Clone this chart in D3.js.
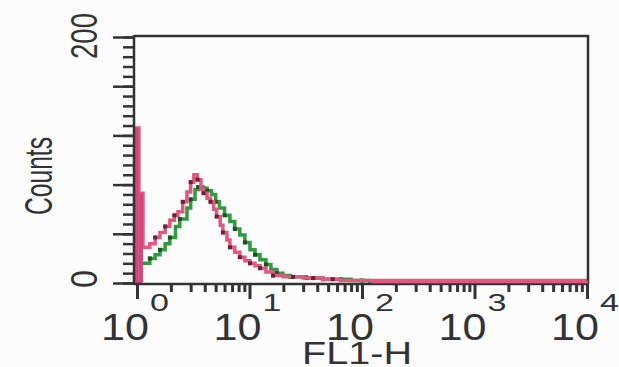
<!DOCTYPE html>
<html><head><meta charset="utf-8">
<script src="https://cdn.jsdelivr.net/npm/d3@7"></script>
<style>body{margin:0;background:#fcfcfd;} svg{display:block;font-family:"Liberation Sans",Arial,Helvetica,sans-serif;}</style>
</head><body>
<script>
// FL1-H bin start values and counts
const pinkFL1 =   [0.93,1.04,1.13,1.30,1.45,1.60,1.78,1.96,2.15,2.31,2.55,2.78,3.0,3.2,3.45,3.7,3.9,4.2,4.5,4.8,5.1,5.5,5.8,6.3,6.7,7.4,8.2,9.1,10.1,11.2,12.4,14,16.2,20,24.4,30,36.8,45,55,64,80,100,120,10000];
const pinkCounts =[126,73,29,32,37,41,46,51,55,58,66,74,82,88,84,76,73,69,66,60,54,47,41,35,29,25,21,18,16,14,12,9,6,5,5,4,4,3,3,2,2,2,2,2];
const greenFL1 =  [1.13,1.30,1.45,1.60,1.78,1.96,2.2,2.4,2.78,3.0,3.28,3.5,3.9,4.2,4.6,5.0,5.4,6.0,6.7,7.4,8.2,9.1,10.1,11.2,12.4,14,15.5,17.5,19.8,23,27,32,38,45,55,65,80,100,117];
const greenCounts=[16,20,23,27,32,37,46,52,61,68,76,78,77,75,72,66,61,55,50,44,39,33,27,23,19,15,11,8,6,5,5,4,4,3,3,3,2,2,1];
const xMajor = [1,10,100,1000,10000];
const xExponents = ["0","1","2","3","4"];
const yMajor = [0,40,80,120,160,200];
const yLabels = ["0","200"];

const W=619,H=367;
const svg=d3.select("body").append("svg").attr("width",W).attr("height",H);
svg.append("rect").attr("width",W).attr("height",H).attr("fill","#fcfcfd");

const x=d3.scaleLog().domain([1,10000]).range([137,587]);
const y=d3.scaleLinear().domain([0,200]).range([283,37]);
const frame={l:134,r:588,t:36,b:284};

// histograms
const line=d3.line().x(d=>x(d[0])).y(d=>y(d[1])).curve(d3.curveStepAfter);
const gData=greenFL1.map((v,i)=>[v,greenCounts[i]]); gData.push([130,0]);
const pData=pinkFL1.map((v,i)=>[v,pinkCounts[i]]);
svg.append("path").attr("d",line(gData)).attr("fill","none").attr("stroke","#2f9a3e").attr("stroke-width",3.5);
svg.append("g").selectAll("rect").data(gData.filter((d,i)=>i%2===1&&d[1]>0)).join("rect")
  .attr("x",d=>x(d[0])-2).attr("y",d=>y(d[1])-2).attr("width",4).attr("height",4).attr("fill","#1f4d22");
svg.append("path").attr("d",line(pData)).attr("fill","none").attr("stroke","#e2577f").attr("stroke-width",3.5);
// spike bins drawn filled
svg.append("g").selectAll("rect").data(pData.slice(0,2)).join("rect")
  .attr("x",(d,i)=>x(d[0])).attr("width",(d,i)=>x(pData[i+1][0])-x(d[0]))
  .attr("y",d=>y(d[1])).attr("height",d=>y(0)-y(d[1])).attr("fill","#d9457a");
svg.append("g").selectAll("rect").data(pData.filter((d,i)=>i>2&&i%2===0&&d[0]<60)).join("rect")
  .attr("x",d=>x(d[0])-2).attr("y",d=>y(d[1])-2).attr("width",4).attr("height",4).attr("fill","#6b2035");

// frame
svg.append("path").attr("d",`M${frame.l},${frame.t}H${frame.r}V${frame.b}`).attr("fill","none").attr("stroke","#333").attr("stroke-width",2.5);

// y axis
const yAxisMinor=d3.axisLeft(y).tickValues(d3.range(0,201,8)).tickSize(11).tickFormat("");
const yAxisMajor=d3.axisLeft(y).tickValues(yMajor).tickSize(21).tickFormat("");
[yAxisMinor,yAxisMajor].forEach(a=>{
  const g=svg.append("g").attr("transform",`translate(${frame.l},0)`).call(a);
  g.select(".domain").remove();
  g.selectAll("line").attr("stroke","#333").attr("stroke-width",2.5);
});
svg.append("line").attr("x1",frame.l).attr("x2",frame.l).attr("y1",frame.t-1).attr("y2",frame.b+1).attr("stroke","#333").attr("stroke-width",2.5);

// x axis
const xMinorVals=[];
for(let d=1;d<10000;d*=10) for(let k=2;k<10;k++) xMinorVals.push(d*k);
const xAxisMinor=d3.axisBottom(x).tickValues(xMinorVals).tickSize(8).tickFormat("");
const xAxisMajor=d3.axisBottom(x).tickValues(xMajor).tickSize(15).tickFormat("");
[xAxisMinor,xAxisMajor].forEach(a=>{
  const g=svg.append("g").attr("transform",`translate(0,${frame.b})`).call(a);
  g.select(".domain").remove();
  g.selectAll("line").attr("stroke","#333").attr("stroke-width",3);
});
svg.append("line").attr("x1",frame.l).attr("x2",frame.r).attr("y1",frame.b).attr("y2",frame.b).attr("stroke","#333").attr("stroke-width",2.5);
// pink baseline over axis
svg.append("line").attr("x1",x(120)).attr("x2",frame.r).attr("y1",y(0)-1).attr("y2",y(0)-1).attr("stroke","#e2577f").attr("stroke-width",2.5);

// x tick labels
xMajor.forEach((v,i)=>{
  const tx=x(v);
  svg.append("text").attr("x",tx-36).attr("y",340).attr("font-size",36).attr("fill","#333")
    .attr("textLength",48).attr("lengthAdjust","spacingAndGlyphs").text("10");
  svg.append("text").attr("x",tx+13).attr("y",311).attr("font-size",24).attr("fill","#333")
    .attr("textLength",19).attr("lengthAdjust","spacingAndGlyphs").text(xExponents[i]);
});
svg.append("text").attr("x",357).attr("y",364).attr("text-anchor","middle").attr("font-size",32).attr("fill","#333")
  .attr("textLength",110).attr("lengthAdjust","spacingAndGlyphs").text("FL1-H");

// y labels (rotated)
[[0,"0",18],[200,"200",46]].forEach(([v,t,len])=>{
  const yy= v===200 ? 36 : 279;
  svg.append("text").attr("transform",`translate(97,${yy}) rotate(-90)`).attr("text-anchor","middle")
    .attr("font-size",37).attr("fill","#333").attr("textLength",len).attr("lengthAdjust","spacingAndGlyphs").text(t);
});
svg.append("text").attr("transform",`translate(52,176) rotate(-90)`).attr("text-anchor","middle")
  .attr("font-size",38).attr("fill","#333").attr("textLength",78).attr("lengthAdjust","spacingAndGlyphs").text("Counts");
</script>
</body></html>
